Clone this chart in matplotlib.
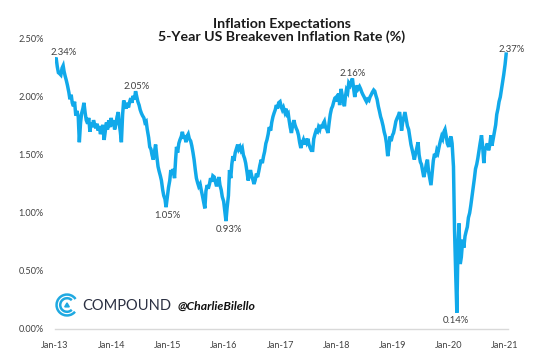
import matplotlib
matplotlib.use("Agg")
import matplotlib.pyplot as plt
import matplotlib.dates as mdates
from matplotlib.patches import Arc, Polygon
from matplotlib.ticker import FuncFormatter, FixedLocator
import pandas as pd

plt.rcParams['font.family'] = ['Lato', 'DejaVu Sans']

# ---------------- data ----------------
title_line1 = "Inflation Expectations"
title_line2 = "5-Year US Breakeven Inflation Rate (%)"
brand_name = "COMPOUND"
brand_handle = "@CharlieBilello"

week_days = [1, 8, 16, 23]   # four readings per month

v2013 = [2.32, 2.34, 2.26, 2.21, 2.20, 2.19, 2.25, 2.27, 2.22, 2.18, 2.14, 2.10,
         2.04, 1.98, 2.02, 1.95, 1.92, 1.96, 1.84, 1.88, 1.83, 1.61, 1.78, 1.86,
         1.90, 1.95, 1.86, 1.80, 1.77, 1.82, 1.70, 1.78, 1.74, 1.80, 1.76, 1.73,
         1.77, 1.71, 1.75, 1.68, 1.72, 1.76, 1.63, 1.70, 1.78, 1.72, 1.80, 1.74]
v2014 = [1.82, 1.75, 1.80, 1.72, 1.77, 1.83, 1.87, 1.76, 1.70, 1.61, 1.85, 1.97,
         1.93, 1.90, 1.95, 1.91, 1.96, 1.99, 1.95, 2.01, 1.98, 2.05, 2.00, 1.96,
         1.93, 1.89, 1.86, 1.84, 1.82, 1.78, 1.79, 1.72, 1.65, 1.57, 1.55, 1.50,
         1.46, 1.52, 1.59, 1.50, 1.40, 1.36, 1.32, 1.28, 1.20, 1.15, 1.12, 1.05]
v2015 = [1.15, 1.22, 1.28, 1.37, 1.33, 1.38, 1.30, 1.46, 1.57, 1.52, 1.60, 1.63,
         1.66, 1.70, 1.64, 1.67, 1.61, 1.66, 1.68, 1.64, 1.62, 1.58, 1.52, 1.46,
         1.37, 1.30, 1.26, 1.23, 1.25, 1.20, 1.15, 1.10, 1.04, 1.19, 1.24, 1.21,
         1.25, 1.30, 1.27, 1.32, 1.31, 1.27, 1.23, 1.26, 1.31, 1.24, 1.20, 1.14]
v2016 = [1.10, 1.02, 0.93, 1.04, 1.15, 1.37, 1.30, 1.42, 1.49, 1.45, 1.52, 1.55,
         1.59, 1.55, 1.57, 1.54, 1.56, 1.50, 1.47, 1.43, 1.35, 1.28, 1.33, 1.37,
         1.32, 1.29, 1.25, 1.28, 1.34, 1.31, 1.36, 1.41, 1.46, 1.43, 1.49, 1.53,
         1.60, 1.63, 1.68, 1.74, 1.71, 1.78, 1.83, 1.86, 1.89, 1.93, 1.90, 1.95]
v2017 = [1.96, 1.92, 1.89, 1.91, 1.87, 1.90, 1.85, 1.86, 1.80, 1.74, 1.69, 1.75,
         1.80, 1.76, 1.73, 1.71, 1.67, 1.61, 1.56, 1.60, 1.63, 1.59, 1.64, 1.61,
         1.64, 1.59, 1.56, 1.54, 1.54, 1.64, 1.68, 1.71, 1.70, 1.74, 1.72, 1.76,
         1.73, 1.77, 1.79, 1.74, 1.72, 1.69, 1.78, 1.85, 1.90, 1.92, 1.96, 1.99]
v2018 = [2.00, 1.96, 2.03, 1.93, 2.07, 2.02, 1.96, 1.92, 2.00, 2.06, 2.04, 2.12,
         2.10, 2.13, 2.16, 2.08, 2.00, 2.06, 2.10, 2.07, 2.09, 2.07, 2.04, 2.02,
         2.00, 1.98, 1.96, 1.98, 1.97, 2.00, 2.02, 2.04, 2.06, 2.05, 2.01, 1.98,
         1.92, 1.88, 1.83, 1.80, 1.75, 1.70, 1.66, 1.60, 1.49, 1.55, 1.66, 1.62]
v2019 = [1.67, 1.69, 1.74, 1.79, 1.82, 1.84, 1.87, 1.80, 1.71, 1.78, 1.83, 1.87,
         1.80, 1.75, 1.72, 1.66, 1.59, 1.55, 1.50, 1.46, 1.52, 1.56, 1.61, 1.50,
         1.44, 1.42, 1.36, 1.31, 1.36, 1.42, 1.46, 1.36, 1.29, 1.24, 1.35, 1.45,
         1.51, 1.48, 1.54, 1.52, 1.58, 1.62, 1.66, 1.64, 1.70, 1.72, 1.66, 1.60]
v2020 = [1.57, 1.63, 1.66, 1.60, 1.40, 0.85, 0.45, 0.14, 0.71, 0.91, 0.56, 0.62,
         0.77, 0.70, 0.80, 0.84, 0.88, 0.96, 1.00, 1.06, 1.15, 1.22, 1.30, 1.38,
         1.42, 1.47, 1.54, 1.60, 1.67, 1.58, 1.43, 1.55, 1.57, 1.60, 1.54, 1.58,
         1.67, 1.58, 1.64, 1.69, 1.76, 1.85, 1.90, 1.96, 2.00, 2.06, 2.13, 2.19]
v2021 = [2.28, 2.37]

yearly_values = {2013: v2013, 2014: v2014, 2015: v2015, 2016: v2016,
                 2017: v2017, 2018: v2018, 2019: v2019, 2020: v2020, 2021: v2021}

# labelled extremes (dates present in the series)
label_dates = ["2013-01-08", "2014-06-08", "2014-12-23", "2016-01-16",
               "2018-04-16", "2020-02-23", "2021-01-08"]

x_tick_years = [2013, 2014, 2015, 2016, 2017, 2018, 2019, 2020, 2021]
y_ticks = [0.0, 0.5, 1.0, 1.5, 2.0, 2.5]

# ---------------- build series ----------------
dates, values = [], []
for yr, vals in yearly_values.items():
    for i, v in enumerate(vals):
        dates.append(pd.Timestamp(yr, i // 4 + 1, week_days[i % 4]))
        values.append(v)
series = pd.Series(values, index=pd.DatetimeIndex(dates))

# ---------------- figure ----------------
W, H = 540, 360
fig = plt.figure(figsize=(W / 100, H / 100), dpi=100)
fig.patch.set_facecolor("white")

ax_left, ax_right = 55, 508
ax_top, ax_bottom = 39, 329
ax = fig.add_axes([ax_left / W, 1 - ax_bottom / H,
                   (ax_right - ax_left) / W, (ax_bottom - ax_top) / H])

line_color = "#11A9EA"
ax.plot(series.index, series.values, color=line_color, lw=2.5,
        solid_joinstyle="miter")

ax.set_ylim(0, 2.5)
ax.set_xlim(pd.Timestamp("2013-01-01"), pd.Timestamp("2021-01-20"))

ax.xaxis.set_major_locator(FixedLocator(
    [mdates.date2num(pd.Timestamp(y, 1, 1)) for y in x_tick_years]))
ax.xaxis.set_major_formatter(mdates.DateFormatter("%b-%y"))
ax.yaxis.set_major_locator(FixedLocator(y_ticks))
ax.yaxis.set_major_formatter(FuncFormatter(lambda v, p: f"{v:.2f}%"))

tick_color = "#404040"
ax.tick_params(axis="both", length=0, labelsize=6.6, colors=tick_color)
ax.tick_params(axis="x", pad=9)
ax.tick_params(axis="y", pad=8)
for s in ["top", "right", "left"]:
    ax.spines[s].set_visible(False)
ax.spines["bottom"].set_color("#D9D9D9")
ax.spines["bottom"].set_linewidth(1.0)

# data labels
offsets = [(8, 5), (1, 5), (1, -8), (3, -8), (0, 5), (-1, -8), (6, 5)]
for d, off in zip(label_dates, offsets):
    ts = pd.Timestamp(d)
    v = series.loc[ts]
    ax.annotate(f"{v:.2f}%", xy=(ts, v), xytext=off, textcoords="offset pixels",
                ha="center", va="center", fontsize=6.8, color=tick_color)

# title
cx = (ax_left + ax_right) / 2 / W
fig.text(cx, 1 - 23.5 / H, title_line1, ha="center", va="center",
         fontsize=10.2, fontweight="bold", color="#1a1a1a")
fig.text(cx, 1 - 37 / H, title_line2, ha="center", va="center",
         fontsize=10.2, fontweight="bold", color="#1a1a1a")

# brand logo
logo_color = "#1FA9E1"
lax = fig.add_axes([55 / W, 1 - 318 / H, 24 / W, 26 / H])
lax.set_xlim(-1.15, 1.15)
lax.set_ylim(-1.2, 1.2)
lax.set_aspect("equal")
lax.axis("off")
lax.add_patch(Arc((0, 0), 2.0, 2.0, theta1=35, theta2=320, color=logo_color, lw=1.8))
lax.add_patch(Arc((0, 0), 1.3, 1.3, theta1=45, theta2=315, color=logo_color, lw=1.8))
lax.add_patch(Polygon([(-0.22, -0.18), (0.22, -0.18), (0.0, 0.2)],
                      closed=True, color=logo_color))

fig.text(82 / W, 1 - 305.5 / H, brand_name, ha="left", va="center",
         fontsize=10.5, color="#2B3042", fontweight="normal")
fig.text(178 / W, 1 - 306 / H, brand_handle, ha="left", va="center",
         fontsize=8.8, color="#111111", fontweight="bold", style="italic")

fig.savefig("out.png", dpi=100, facecolor="white")
